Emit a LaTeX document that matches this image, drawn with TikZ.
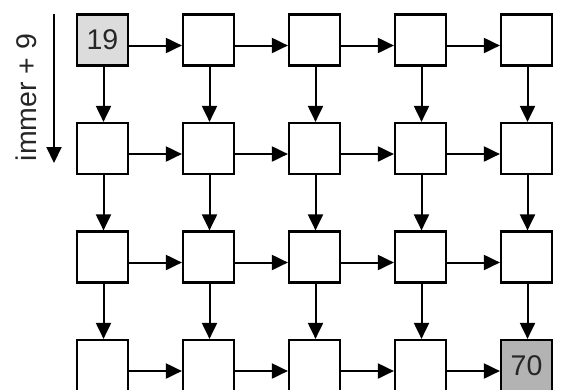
\documentclass[tikz,border=0pt]{standalone}
\usepackage{fontspec}
\setmainfont{Liberation Sans}
\usetikzlibrary{arrows.meta}
\definecolor{lightfill}{HTML}{DCDCDC}
\definecolor{darkfill}{HTML}{B3B3B3}
\begin{document}
\begin{tikzpicture}[x=1pt,y=1pt,
  cell/.style={draw=black,line width=2.2pt,minimum size=51pt,inner sep=0pt,fill=white,font=\fontsize{28.5}{30}\selectfont,text=black!85},
  conn/.style={line width=2pt,-{Triangle[length=16pt,width=15pt]}}]
\useasboundingbox (0,0) rectangle (561,-389);
\foreach \r/\y in {0/40,1/148.5,2/257,3/365.5}{
  \foreach \c/\x in {0/102.5,1/208.5,2/314.5,3/420.5,4/526.5}{
    \node[cell] (n\r\c) at (\x,-\y) {};
  }
}
\node[cell,fill=lightfill] at (n00) {19};
\node[cell,fill=darkfill] at (n34) {70};
\foreach \r in {0,1,2,3}{
  \foreach \c/\d in {0/1,1/2,2/3,3/4}{
    \draw[conn] ([yshift=-5.5pt]n\r\c.east) -- ([yshift=-5.5pt]n\r\d.west);
  }
}
\foreach \r/\s in {0/1,1/2,2/3}{
  \foreach \c in {0,1,2,3,4}{
    \draw[conn] ([xshift=1pt]n\r\c.south) -- ([xshift=1pt]n\s\c.north);
  }
}
\coordinate (a1) at (54,-14);
\coordinate (a2) at (54,-163);
\draw[conn] (a1) -- (a2);
\node[rotate=90,font=\fontsize{28.5}{30}\selectfont,text=black!85,inner sep=0pt] (lbl) at (26,-97.5) {immer + 9};
\end{tikzpicture}
\end{document}
